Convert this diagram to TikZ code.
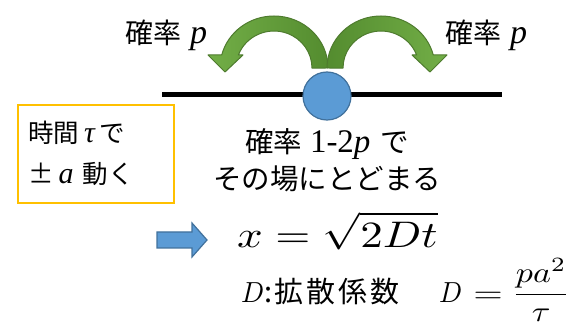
\documentclass[tikz,border=0pt]{standalone}
\usepackage{fontspec}
\usepackage{amsmath}
\usepackage{graphicx}
\newfontfamily\jp{Noto Sans CJK JP}
\newfontfamily\tnr{Liberation Serif}
\newcommand{\serifit}[2]{{\tnr\itshape\fontsize{#1}{#1}\selectfont #2}}
\definecolor{garrowlight}{HTML}{72AE47}
\definecolor{garrowdark}{HTML}{548C2F}
\definecolor{garrowline}{HTML}{4E7B2E}
\definecolor{bfill}{HTML}{5B9BD5}
\definecolor{bline}{HTML}{41719C}
\definecolor{ybox}{HTML}{FFC000}
\begin{document}
\begin{tikzpicture}[x=1pt,y=-1pt,
  jptop/.style={inner sep=0pt,anchor=base west,font=\jp\fontsize{28}{33}\selectfont},
  jpbox/.style={inner sep=0pt,anchor=base west,font=\jp\fontsize{25.5}{30}\selectfont},
  jpmid/.style={inner sep=0pt,anchor=base,text height=23pt,text depth=4pt,font=\jp\fontsize{28.5}{33}\selectfont},
  garrow/.style={draw=garrowline,line width=1pt,line join=round},
  bshape/.style={fill=bfill,draw=bline,line width=1.2pt}]
\useasboundingbox (0,0) rectangle (568,323);
% curved arrows
\path[garrow,left color=garrowlight,right color=garrowdark]
  (328,68) arc[start angle=0,end angle=-165.5,x radius=54,y radius=52]
  -- (208,55) -- (225,72) -- (243,55) -- (238.4,55)
  arc[start angle=-159.4,end angle=0,x radius=38,y radius=37]
  -- cycle;
\path[garrow,left color=garrowdark,right color=garrowlight]
  (327,68) arc[start angle=180,end angle=345.5,x radius=54,y radius=52]
  -- (447,55) -- (430,72) -- (412,55) -- (416.6,55)
  arc[start angle=-20.6,end angle=-180,x radius=38,y radius=37]
  -- cycle;
% line and particle
\coordinate (lineL) at (162,95);
\coordinate (lineR) at (502,95);
\draw[line width=5pt] (lineL) -- (lineR);
\node[circle,minimum size=48pt,inner sep=0pt,bshape] (ball) at (327,96) {};
% labels
\node[jptop] (pl) at (125,44) {確率\hspace{9pt}\serifit{34}{p}};
\node[jptop] (pr) at (445,44) {確率\hspace{9pt}\serifit{34}{p}};
% yellow box
\coordinate (boxA) at (18,105);
\coordinate (boxB) at (174,203);
\draw[draw=ybox,line width=2pt] (boxA) rectangle (boxB);
\node[jpbox] (b1) at (28,143) {時間\hspace{5pt}\serifit{30}{τ}\hspace{5pt}で};
\node[jpbox] (b2) at (28,184) {±\hspace{5pt}\serifit{30}{a}\hspace{9pt}動く};
% middle text
\node[jpmid] (m1) at (327,153) {確率\hspace{8pt}{\tnr\fontsize{33}{33}\selectfont 1-2\itshape p}\hspace{10pt}で};
\node[jpmid] (m2) at (327,190) {その場にとどまる};
% block arrow
\path[bshape] (157,232) -- (192,232) -- (192,223) -- (207,240) -- (192,257) -- (192,248) -- (157,248) -- cycle;
% formulas
\node[inner sep=0pt,anchor=base west] (f1) at (237,248) {\scalebox{4.5}[3.7]{$\displaystyle x=\sqrt{2Dt}$}};
\node[inner sep=0pt,anchor=base west] (dsym) at (241,302) {\scalebox{2.7}[2.9]{$D$}};
\node[jpbox,font=\jp\fontsize{29}{33}\selectfont] (dd) at (264,303) {:\hspace{2pt}拡\hspace{3pt}散\hspace{3pt}係\hspace{3pt}数};
\node[inner sep=0pt,anchor=base west] (f2) at (439,302)
  {\scalebox{2.7}[2.9]{$D$}\hspace{11pt}\scalebox{3.8}[2.8]{$=$}\hspace{9pt}\scalebox{3.4}[2.9]{$\dfrac{pa^2}{\tau}$}};
\end{tikzpicture}
\end{document}
